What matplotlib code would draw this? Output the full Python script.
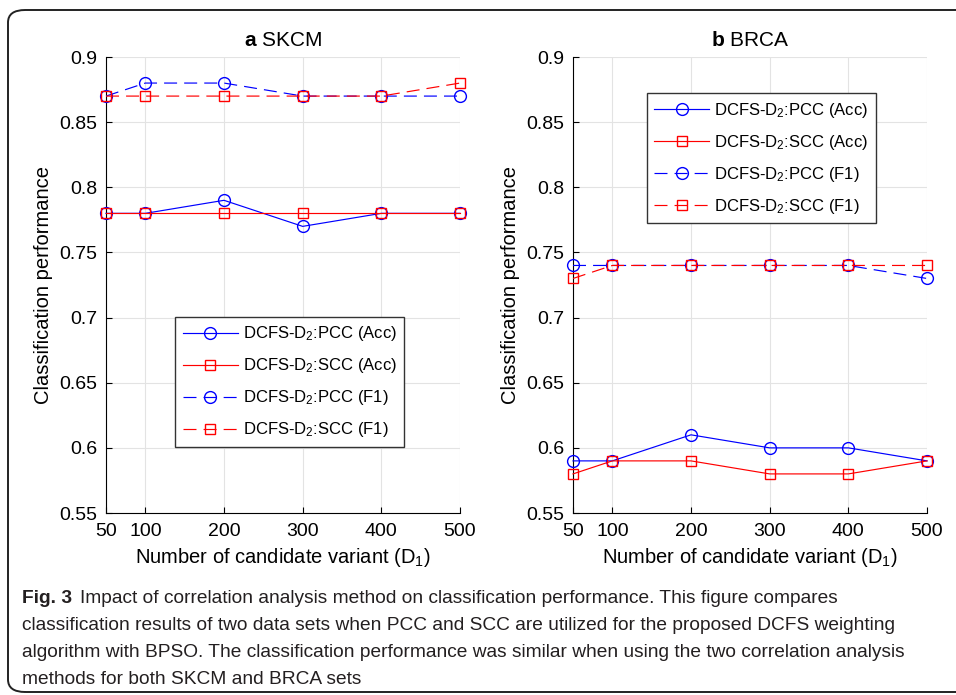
import matplotlib
matplotlib.use("Agg")
import matplotlib.pyplot as plt
from matplotlib import font_manager
from matplotlib.patches import FancyBboxPatch
from matplotlib.ticker import FuncFormatter

# ---------------- data ----------------
d1_values = [50, 100, 200, 300, 400, 500]
y_ticks = [0.55, 0.6, 0.65, 0.7, 0.75, 0.8, 0.85, 0.9]

skcm_pcc_acc = [0.78, 0.78, 0.79, 0.77, 0.78, 0.78]
skcm_scc_acc = [0.78, 0.78, 0.78, 0.78, 0.78, 0.78]
skcm_pcc_f1 = [0.87, 0.88, 0.88, 0.87, 0.87, 0.87]
skcm_scc_f1 = [0.87, 0.87, 0.87, 0.87, 0.87, 0.88]

brca_pcc_acc = [0.59, 0.59, 0.61, 0.60, 0.60, 0.59]
brca_scc_acc = [0.58, 0.59, 0.59, 0.58, 0.58, 0.59]
brca_pcc_f1 = [0.74, 0.74, 0.74, 0.74, 0.74, 0.73]
brca_scc_f1 = [0.73, 0.74, 0.74, 0.74, 0.74, 0.74]

series_labels = ["DCFS-D$_2$:PCC (Acc)", "DCFS-D$_2$:SCC (Acc)",
                 "DCFS-D$_2$:PCC (F1)", "DCFS-D$_2$:SCC (F1)"]
panel_letters = ["a", "b"]
panel_names = ["SKCM", "BRCA"]
x_label = "Number of candidate variant (D$_1$)"
y_label = "Classification performance"
caption_bold = "Fig. 3"
caption_lines = [
    "Impact of correlation analysis method on classification performance. This figure compares",
    "classification results of two data sets when PCC and SCC are utilized for the proposed DCFS weighting",
    "algorithm with BPSO. The classification performance was similar when using the two correlation analysis",
    "methods for both SKCM and BRCA sets",
]

# ---------------- style ----------------
plt.rcParams["font.family"] = ["Liberation Sans", "DejaVu Sans"]
plt.rcParams["mathtext.fontset"] = "custom"
plt.rcParams["mathtext.rm"] = "Liberation Sans"
plt.rcParams["mathtext.it"] = "Liberation Sans:italic"
plt.rcParams["mathtext.bf"] = "Liberation Sans:bold"

names = {f.name for f in font_manager.fontManager.ttflist}
cap_family = "Liberation Sans Narrow" if "Liberation Sans Narrow" in names else "Liberation Sans"

W, H = 956, 695
fig = plt.figure(figsize=(W / 100, H / 100), dpi=100)

# outer rounded frame
frame = FancyBboxPatch((8 / W, 1 - 692 / H), 1.2, (692 - 10) / H,
                       boxstyle="round,pad=0,rounding_size=0.018",
                       transform=fig.transFigure, fill=False,
                       edgecolor="#222222", linewidth=1.4, clip_on=False)
fig.patches.append(frame)

blue = (0, 0, 1)
red = (1, 0, 0)
dash = (0, (11, 6))
styles = [
    dict(color=blue, marker="o", ls="-", ms=8.5),
    dict(color=red, marker="s", ls="-", ms=6.5),
    dict(color=blue, marker="o", ls=dash, ms=8.5),
    dict(color=red, marker="s", ls=dash, ms=6.5),
]

panels = [
    ([skcm_pcc_acc, skcm_scc_acc, skcm_pcc_f1, skcm_scc_f1], 106, (0.195, 0.43)),
    ([brca_pcc_acc, brca_scc_acc, brca_pcc_f1, brca_scc_f1], 573, (0.209, 0.921)),
]

fmt = FuncFormatter(lambda v, p: ("%g" % round(v, 2)))

for i, (series, left_px, leg_anchor) in enumerate(panels):
    ax = fig.add_axes([left_px / W, 1 - 513 / H, 354 / W, 456 / H])
    for vals, st, lab in zip(series, styles, series_labels):
        ax.plot(d1_values, vals, color=st["color"], marker=st["marker"],
                linestyle=st["ls"], linewidth=0.85, markersize=st["ms"],
                markerfacecolor="none", markeredgewidth=1.0, label=lab,
                clip_on=False, zorder=3)
    ax.set_xlim(50, 500)
    ax.set_ylim(0.55, 0.9)
    ax.set_xticks(d1_values)
    ax.set_yticks(y_ticks)
    ax.yaxis.set_major_formatter(fmt)
    ax.grid(True, color="#e3e3e3", linewidth=0.8)
    ax.set_axisbelow(True)
    for s in ["top", "right"]:
        ax.spines[s].set_visible(False)
    for s in ["left", "bottom"]:
        ax.spines[s].set_linewidth(0.8)
    ax.tick_params(direction="in", length=4, width=0.8, labelsize=14)
    ax.tick_params(axis="x", pad=7.5)
    ax.tick_params(axis="y", pad=6.5)
    ax.set_xlabel(x_label, fontsize=14.5, labelpad=4)
    ax.set_ylabel(y_label, fontsize=14.5, labelpad=4)
    ax.set_title(r"$\mathbf{%s}$ %s" % (panel_letters[i], panel_names[i]),
                 fontsize=15, pad=8)
    leg = ax.legend(loc="upper left", bbox_to_anchor=leg_anchor, fontsize=12,
                    fancybox=False, framealpha=1, edgecolor="#333333",
                    handlelength=3.3, handletextpad=0.3, labelspacing=0.78,
                    borderpad=0.45, borderaxespad=0)
    leg.get_frame().set_linewidth(1.0)

# caption
cap_size = 13.5
fig.canvas.draw()
r = fig.canvas.get_renderer()
probe = fig.text(0, 0, caption_lines[2], fontsize=cap_size, family=cap_family)
w = probe.get_window_extent(r).width
probe.remove()
cap_size = cap_size * (906 - 22) / w

y0 = 603
dy = 27
tb = fig.text(22 / W, 1 - y0 / H, caption_bold, fontsize=cap_size, family=cap_family,
              fontweight="bold", va="baseline", color="#231f20")
bw = tb.get_window_extent(r).width
fig.text((22 + bw + 8) / W, 1 - y0 / H, caption_lines[0], fontsize=cap_size,
         family=cap_family, va="baseline", color="#231f20")
for k, line in enumerate(caption_lines[1:], start=1):
    fig.text(22 / W, 1 - (y0 + k * dy) / H, line, fontsize=cap_size,
             family=cap_family, va="baseline", color="#231f20")

fig.savefig("out.png", dpi=100)
